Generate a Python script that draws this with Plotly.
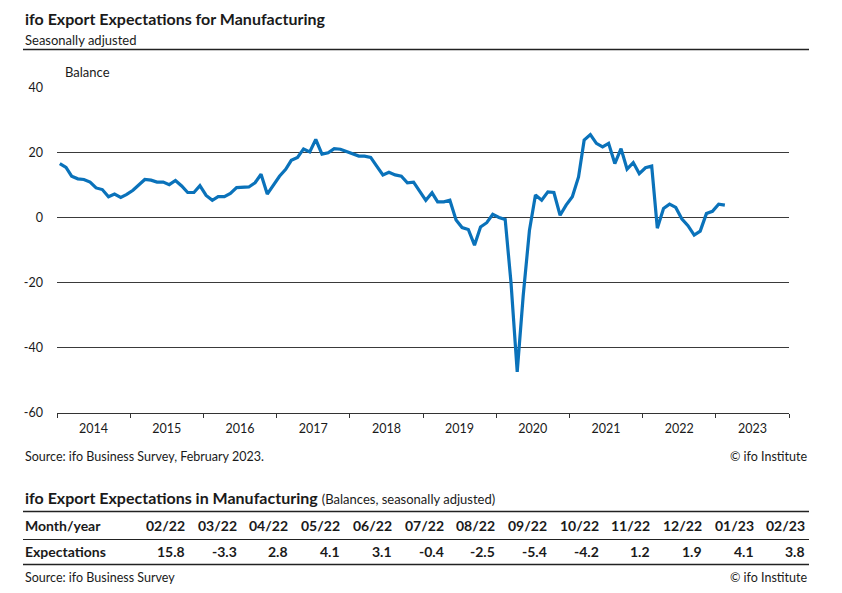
import pandas as pd
import plotly.graph_objects as go

# Dados mensais (saldo, dessazonalizado), jan/2014 a fev/2023
v2014 = [16.6, 15.4, 12.7, 11.9, 11.7, 10.9, 9.1, 8.6, 6.4, 7.2, 6.2, 7.1]
v2015 = [8.4, 10.1, 11.7, 11.5, 10.9, 10.9, 10.1, 11.4, 9.7, 7.7, 7.7, 9.8]
v2016 = [6.8, 5.3, 6.4, 6.4, 7.4, 9.2, 9.2, 9.4, 10.7, 13.3, 7.2, 9.9]
v2017 = [12.7, 14.8, 17.6, 18.5, 21.1, 20.2, 24.0, 19.5, 19.9, 21.2, 21.0, 20.3]
v2018 = [19.5, 18.9, 18.9, 18.5, 15.8, 13.1, 13.9, 13.1, 12.7, 10.7, 10.9, 8.2]
v2019 = [5.3, 7.6, 4.8, 4.8, 5.3, -0.8, -3.1, -3.7, -8.5, -2.9, -1.6, 1.0]
v2020 = [0.0, -0.6, -20.0, -47.5, -24.0, -4.0, 6.9, 5.3, 7.9, 7.7, 0.7, 3.8]
v2021 = [6.4, 12.5, 23.8, 25.5, 22.8, 21.7, 22.8, 16.6, 21.2, 14.9, 16.9, 13.5]
v2022 = [15.3, 15.8, -3.3, 2.8, 4.1, 3.1, -0.4, -2.5, -5.4, -4.2, 1.2, 1.9]
v2023 = [4.1, 3.8]

# Tabela
table_months = ['02/22', '03/22', '04/22', '05/22', '06/22', '07/22', '08/22',
                '09/22', '10/22', '11/22', '12/22', '01/23', '02/23']
table_values = [15.8, -3.3, 2.8, 4.1, 3.1, -0.4, -2.5, -5.4, -4.2, 1.2, 1.9, 4.1, 3.8]

y_ticks = [-60, -40, -20, 0, 20, 40]

values = v2014 + v2015 + v2016 + v2017 + v2018 + v2019 + v2020 + v2021 + v2022 + v2023
dates = pd.date_range('2014-01-01', periods=len(values), freq='MS') + pd.Timedelta(days=14)

W, H = 842, 608     # a captura comprime um pouco na vertical
REF_H = 593
Y_SHIFT = 7.5       # e desloca tudo para baixo
FONT = 'Lato'
INK = '#1a1a1a'


def px(x):
    return x / W


def py(y):
    return 1 - (y - Y_SHIFT) / REF_H


fig = go.Figure()

fig.add_trace(go.Scatter(
    x=dates, y=values, mode='lines',
    line=dict(color='#0a72ba', width=3.2),
    hoverinfo='skip'
))

fig.update_layout(
    width=W, height=H,
    margin=dict(l=0, r=0, t=0, b=0),
    paper_bgcolor='white', plot_bgcolor='white',
    showlegend=False,
    font=dict(family=FONT, color=INK, size=12),
    xaxis=dict(
        domain=[px(57), px(789)],
        range=['2014-01-01', '2024-01-01'],
        type='date', dtick='M12', tick0='2014-01-01',
        tickformat='%Y', ticklabelmode='period',
        ticks='outside', ticklen=4, tickcolor='#333', tickwidth=1,
        showline=True, linecolor='#333', linewidth=1,
        showgrid=False, zeroline=False,
        tickfont=dict(size=12.5, color=INK),
    ),
    yaxis=dict(
        domain=[py(412), py(87)],
        range=[-60, 40],
        tickvals=y_ticks,
        ticktext=[str(v) for v in y_ticks],
        showgrid=True, gridcolor='#3a3a3a', gridwidth=1,
        zeroline=False, showline=False, ticks='',
        ticklabelstandoff=13,
        tickfont=dict(size=12.5, color=INK),
    ),
)

# Textos do gráfico
ann = [
    dict(x=px(23), y=py(18), text='<b>ifo Export Expectations for Manufacturing</b>', size=16),
    dict(x=px(23), y=py(39.5), text='Seasonally adjusted', size=13),
    dict(x=px(63), y=py(72), text='Balance', size=13),
    dict(x=px(23), y=py(456), text='Source: ifo Business Survey, February 2023.', size=12.5),
    dict(x=px(23), y=py(496.5), text='<b>ifo Export Expectations in Manufacturing</b>'
         ' <span style="font-size:13px">(Balances, seasonally adjusted)</span>', size=16),
    dict(x=px(23), y=py(525), text='<b>Month/year</b>', size=14),
    dict(x=px(23), y=py(550.5), text='<b>Expectations</b>', size=14),
    dict(x=px(23), y=py(577), text='Source: ifo Business Survey', size=12.5),
]
for a in ann:
    fig.add_annotation(x=a['x'], y=a['y'], xref='paper', yref='paper', text=a['text'],
                       showarrow=False, xanchor='left', yanchor='middle',
                       font=dict(size=a['size'], color=INK, family=FONT))

for yy in [456, 577]:
    fig.add_annotation(x=px(809), y=py(yy), xref='paper', yref='paper', text='© ifo Institute',
                       showarrow=False, xanchor='right', yanchor='middle',
                       font=dict(size=12.5, color=INK, family=FONT))

# Células da tabela
col_right0, col_step = 187, 51.7
for i, (m, v) in enumerate(zip(table_months, table_values)):
    xr = px(col_right0 + i * col_step)
    fig.add_annotation(x=xr, y=py(525), xref='paper', yref='paper', text=f'<b>{m}</b>',
                       showarrow=False, xanchor='right', yanchor='middle',
                       font=dict(size=14, color=INK, family=FONT))
    fig.add_annotation(x=xr, y=py(550.5), xref='paper', yref='paper', text=f'<b>{v:.1f}</b>',
                       showarrow=False, xanchor='right', yanchor='middle',
                       font=dict(size=14, color=INK, family=FONT))

# Linhas horizontais
for yy, w in [(49, 1.6), (511, 1.6), (539, 1.2), (564, 1.6)]:
    fig.add_shape(type='line', xref='paper', yref='paper',
                  x0=px(23), x1=px(809), y0=py(yy), y1=py(yy),
                  line=dict(color='#222', width=w))

# Página sem margens
js = ("var d=document.documentElement,b=document.body;"
      "d.style.margin='0';d.style.padding='0';d.style.overflow='hidden';"
      "b.style.margin='0';b.style.padding='0';b.style.overflow='hidden';")
fig.write_html('out.html', config={'displayModeBar': False}, post_script=js)
